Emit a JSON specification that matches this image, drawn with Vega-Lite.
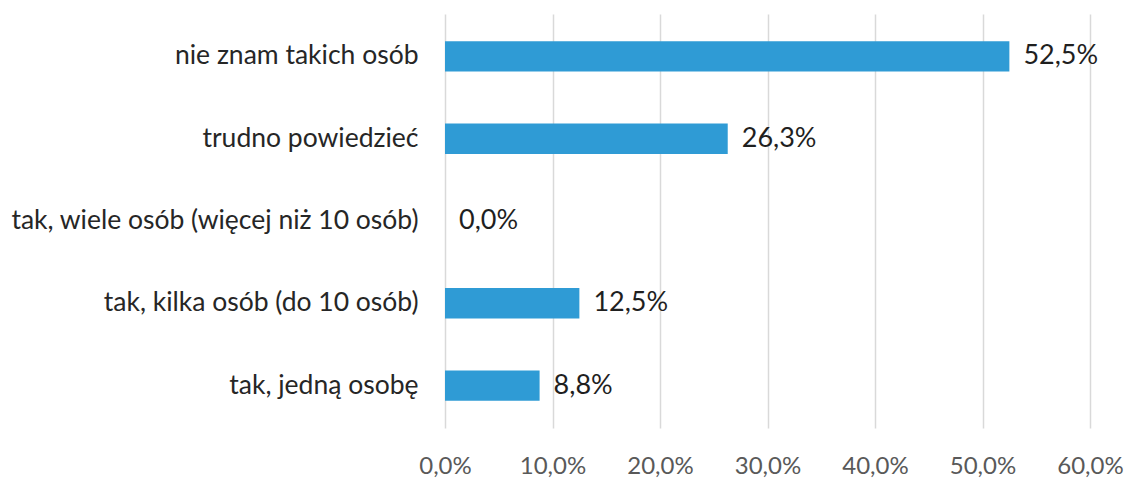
{
  "$schema": "https://vega.github.io/schema/vega-lite/v6.json",
  "width": 645,
  "height": 414,
  "autosize": {"type": "none"},
  "padding": {"left": 445, "top": 14, "right": 37, "bottom": 51},
  "background": "white",
  "config": {
    "locale": {"number": {"decimal": ",", "thousands": " ", "grouping": [3], "currency": ["", " zł"]}},
    "view": {"stroke": null},
    "font": "Lato"
  },
  "data": {
    "values": [
      {"kategoria": "nie znam takich osób", "wartosc": 0.525},
      {"kategoria": "trudno powiedzieć", "wartosc": 0.263},
      {"kategoria": "tak, wiele osób (więcej niż 10 osób)", "wartosc": 0.0},
      {"kategoria": "tak, kilka osób (do 10 osób)", "wartosc": 0.125},
      {"kategoria": "tak, jedną osobę", "wartosc": 0.088}
    ]
  },
  "encoding": {
    "y": {
      "field": "kategoria",
      "type": "nominal",
      "sort": null,
      "scale": {"paddingInner": 0.63, "paddingOuter": 0.33},
      "axis": {
        "title": null,
        "domain": false,
        "ticks": false,
        "labelPadding": 27,
        "labelFontSize": 26.5,
        "labelColor": "#262626",
        "labelFont": "Lato",
        "labelLimit": 500
      }
    },
    "x": {
      "field": "wartosc",
      "type": "quantitative",
      "scale": {"domain": [0, 0.6], "nice": false},
      "axis": {
        "title": null,
        "format": ".1%",
        "values": [0, 0.1, 0.2, 0.3, 0.4, 0.5, 0.6],
        "domain": false,
        "ticks": false,
        "grid": true,
        "gridColor": "#d9d9d9",
        "gridWidth": 1.5,
        "labelFlush": false,
        "labelOverlap": false,
        "labelDx": -4,
        "labelPadding": 26,
        "labelFontSize": 24,
        "labelColor": "#595959",
        "labelFont": "Lato"
      }
    }
  },
  "layer": [
    {
      "mark": {"type": "bar", "color": "#2f9bd5"}
    },
    {
      "mark": {"type": "text", "align": "left", "baseline": "middle", "dx": 14, "fontSize": 27, "color": "#1f1f1f", "font": "Lato"},
      "encoding": {
        "text": {"field": "wartosc", "type": "quantitative", "format": ".1%"}
      }
    }
  ]
}
